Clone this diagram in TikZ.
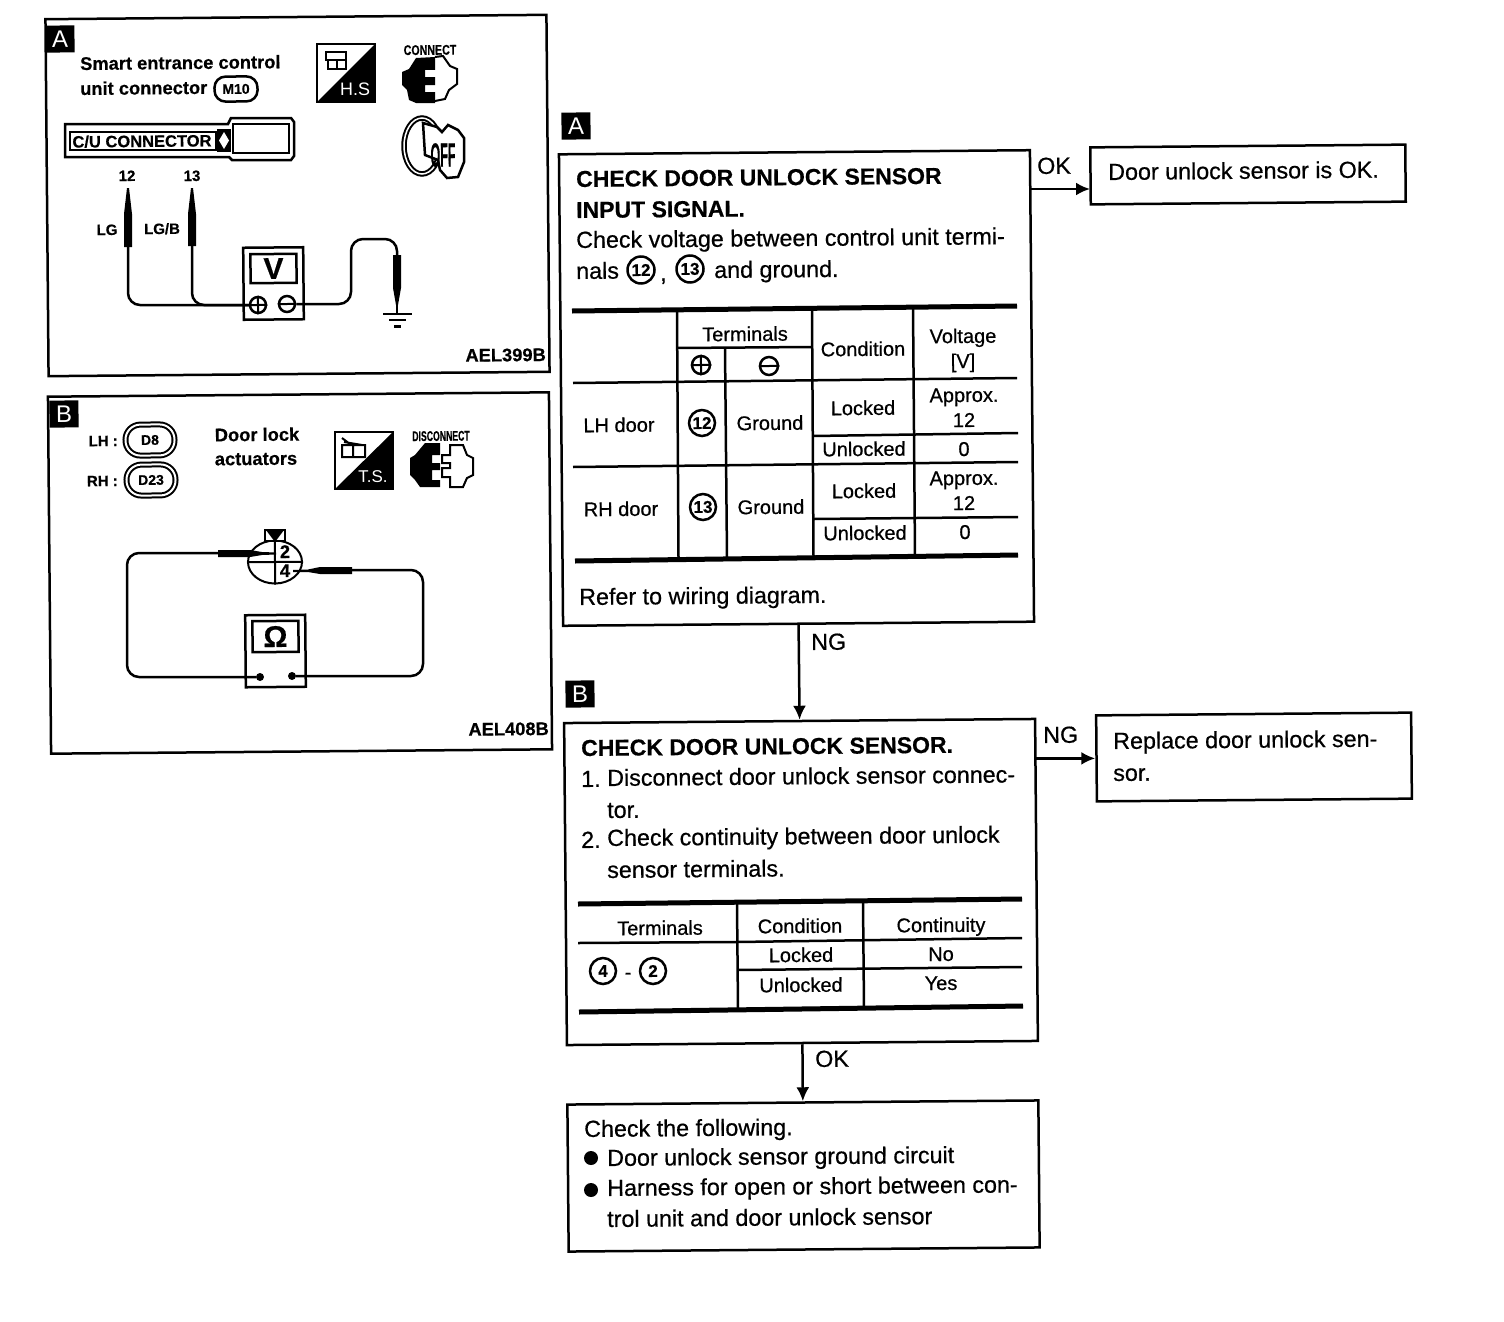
\documentclass[tikz,border=0pt]{standalone}
\usepackage{amsmath}
\usepackage{amssymb}
\usepackage{fontspec}
\usepackage{xcolor}
\usetikzlibrary{arrows.meta,shapes.geometric}
\setmainfont{Liberation Sans}[FakeBold=0.6,BoldFont=Liberation Sans Bold,BoldFeatures={FakeBold=0.5}]
\newfontfamily\thinfont{Liberation Sans}
\tikzset{
	frame/.style={draw, line width=2.5pt, inner sep=0pt},
	tag/.style={fill=black, text=white, inner sep=0pt, minimum width=29pt, minimum height=27pt, font=\thinfont\fontsize{24}{24}\selectfont},
	txt/.style={anchor=west, yshift=-1pt, inner sep=0pt, text height=16pt, text depth=0pt, font=\fontsize{23.3}{23.3}\selectfont},
	head/.style={txt, font=\bfseries\fontsize{23}{23}\selectfont},
	cell/.style={inner sep=0pt, text height=14pt, text depth=0pt, font=\fontsize{20}{20}\selectfont},
	lab/.style={inner sep=0pt, text height=12pt, text depth=0pt, font=\bfseries\fontsize{18.3}{18.3}\selectfont},
	small lab/.style={lab, font=\bfseries\fontsize{15}{15}\selectfont},
	condensed/.style={inner sep=0pt, transform shape, font=\bfseries\fontsize{14}{14}\selectfont},
	pinmark/.style={draw, circle, line width=2.5pt, inner sep=0pt, minimum size=27pt, font=\bfseries\fontsize{17}{17}\selectfont},
	port/.style={draw, circle, line width=2.5pt, inner sep=0pt, minimum size=16pt},
	plug/.style={draw, line width=2pt, double, double distance=2pt, rounded corners=15pt, minimum width=49pt, minimum height=31pt, inner sep=0pt, font=\bfseries\fontsize{14}{14}\selectfont},
	hairline/.style={line width=2.5pt},
	heavy/.style={line width=5pt},
	wire/.style={line width=2.5pt, rounded corners=12pt},
	flow/.style={line width=2.5pt, -{Latex[length=14pt,width=13pt]}},
}
\begin{document}
\begin{tikzpicture}[x=1pt, y=-1pt, every node/.append style={rotate=0.5}]
	\useasboundingbox (0,0) rectangle (1504,1322);

	% Draw the test panel A
	\node[frame, minimum width=501pt, minimum height=357pt] (panelA) at (297.5,195.5) {};
	\node[tag] (tagA) at (60,39) {A};
	\node[lab, anchor=west] (titleA1) at (80,64) {Smart entrance control};
	\node[lab, anchor=west] (titleA2) at (80,89) {unit connector};
	\node[draw, rounded corners=11pt, line width=2.5pt, minimum width=43pt, minimum height=25pt, inner sep=0pt, font=\bfseries\fontsize{14}{14}\selectfont] (mten) at (236,89) {M10};

	% H.S icon, connector and key
	\draw[line width=2pt] (317,44) rectangle (375,102);
	\fill (375,44) -- (375,102) -- (317,102) -- cycle;
	\draw[line width=2pt] (326,52) rectangle (346,60) (328,60) -- (328,69) -- (346,69) -- (346,60) (337,60) -- (337,69);
	\node[inner sep=0pt, text=white, font=\thinfont\fontsize{18}{18}\selectfont] (hs) at (355,89) {H.S};
	\node[condensed, xscale=.76] (connect) at (430,50) {CONNECT};
	\fill (435,57) -- (416,58) -- (409,69) -- (402,72) -- (402,85) -- (407,90) -- (409,100) -- (416,103) -- (435,103) -- (435,92) -- (425,92) -- (425,85) -- (435,85) -- (435,77) -- (425,77) -- (425,70) -- (435,70) -- cycle;
	\draw[line width=2pt] (435,57) -- (443,56) -- (450,66) -- (457,69) -- (457,84) -- (449,90) -- (445,99) -- (435,101);
	\draw[line width=2pt, double, double distance=1.5pt] (422,146) ellipse (18 and 28);
	\draw[line width=2.5pt, fill=white] (423,123) -- (425,155) -- (438,160) -- (440,170) -- (447,178) -- (458,177) -- (464,162) -- (464,138) -- (458,130) -- (448,125) -- (442,132) -- (437,127) -- cycle;
	\node[transform shape, xscale=.52, yscale=1.4, inner sep=0pt, font=\bfseries\fontsize{24}{24}\selectfont] (off) at (443,155) {OFF};

	% C/U connector bar
	\draw[line width=2.5pt] (65,124) -- (228,124) -- (231,118) -- (291,118) -- (294,122) -- (294,156) -- (291,160) -- (232,160) -- (229,157) -- (65,157) -- cycle;
	\draw[line width=2pt] (70,132) rectangle (216,150);
	\draw[line width=2.5pt] (233,124) rectangle (289,153);
	\fill (217,129) rectangle (231,152);
	\fill[white] (224,132) -- (229,140.5) -- (224,149) -- (219,140.5) -- cycle;
	\node[lab, font=\bfseries\fontsize{16.5}{16.5}\selectfont] (cuconn) at (142,141) {C/U CONNECTOR};

	% Probes and meter
	\node[small lab] (pinA) at (127,175) {12};
	\node[small lab] (pinB) at (192,175) {13};
	\node[small lab] (lg) at (107,229) {LG};
	\node[small lab] (lgb) at (162,228) {LG/B};
	\fill (127,188) -- (129,188) -- (132,214) -- (132,247) -- (124,247) -- (124,214) -- cycle;
	\fill (191,188) -- (193,188) -- (196,214) -- (196,246) -- (188,246) -- (188,214) -- cycle;
	\node[draw, line width=2.5pt, inner sep=0pt, minimum width=60pt, minimum height=72pt] (meterV) at (273.5,283.5) {};
	\node[draw, line width=2.5pt, inner sep=0pt, minimum width=46pt, minimum height=29pt, font=\bfseries\fontsize{30}{30}\selectfont] (dispV) at (273.5,268.5) {V};
	\node[port] (plusA) at (258,305) {};
	\node[port] (minusA) at (287,304) {};
	\draw[line width=2pt] (plusA.north) -- (plusA.south) (plusA.west) -- (plusA.east) (minusA.west) -- (minusA.east);
	\coordinate (tipA) at (128,247);
	\coordinate (tipB) at (192,246);
	\coordinate (tipC) at (397,256);
	\draw[wire] (tipA) |- (plusA);
	\draw[wire] (tipB) |- (plusA);
	\draw[wire] (minusA) -- (351,304) -- (351,239) -- (397,239) -- (tipC);
	\fill (393,255) -- (401,255) -- (401,288) -- (398,305) -- (396,305) -- (393,288) -- cycle;
	\draw[line width=2.5pt] (397,300) -- (397,314) (383,314) -- (412,314);
	\draw[line width=2.5pt] (389,320) -- (406,320);
	\draw[line width=3pt] (394,326) -- (401,326);
	\node[lab, anchor=east] (codeA) at (546,355) {AEL399B};

	% Draw the test panel B
	\node[frame, minimum width=501pt, minimum height=357pt] (panelB) at (300,573) {};
	\node[tag] (tagB) at (64,414) {B};
	\node[small lab, anchor=east] (lh) at (118,440) {LH :};
	\node[small lab, anchor=east] (rh) at (118,480) {RH :};
	\node[plug] (deight) at (150,440) {D8};
	\node[plug] (dtwenty) at (151,480) {D23};
	\node[lab] (doorlock) at (257,435) {Door lock};
	\node[lab] (actuators) at (256,459) {actuators};

	% T.S. icon and connector
	\draw[line width=2pt] (335,432) rectangle (393,489);
	\fill (393,432) -- (393,489) -- (335,489) -- cycle;
	\draw[line width=2pt] (342,438) -- (350,444) (342,445) rectangle (353,457) (353,445) rectangle (365,457) (344,442) -- (362,445);
	\node[inner sep=0pt, text=white, font=\thinfont\fontsize{17}{17}\selectfont] (ts) at (373,477) {T.S.};
	\node[condensed, xscale=.62] (disconnect) at (441,436) {DISCONNECT};
	\fill (440,443) -- (425,443) -- (415,455) -- (410,458) -- (410,475) -- (415,480) -- (420,487) -- (440,487) -- (440,480) -- (432,480) -- (432,470) -- (440,470) -- (440,463) -- (432,463) -- (432,455) -- (440,455) -- cycle;
	\draw[line width=2pt] (450,445) -- (463,445) -- (467,455) -- (473,458) -- (473,475) -- (467,478) -- (463,487) -- (450,487) -- (450,477) -- (442,477) -- (442,468) -- (450,468) -- (450,463) -- (442,463) -- (442,455) -- (450,455) -- cycle;

	% Connector face with terminals
	\node[draw, ellipse, line width=2pt, inner sep=0pt, minimum width=54pt, minimum height=43pt] (face) at (275,562) {};
	\draw[line width=2pt] (face.west) -- (face.east) (face.north) -- (face.south);
	\draw[line width=1.5pt, fill=white] (265,530) rectangle (285,541);
	\fill (266,530) -- (284,530) -- (275,542) -- cycle;
	\node[lab] (numtwo) at (285,552) {2};
	\node[lab] (numfour) at (285,571) {4};

	% Meter and leads
	\node[draw, line width=2.5pt, inner sep=0pt, minimum width=60pt, minimum height=72pt] (meterO) at (275.5,651) {};
	\node[draw, line width=2.5pt, inner sep=0pt, minimum width=46pt, minimum height=31pt, font=\bfseries\fontsize{30}{30}\selectfont] (dispO) at (275.5,636.5) {Ω};
	\node[circle, fill=black, inner sep=0pt, minimum size=8pt] (dotL) at (260,677) {};
	\node[circle, fill=black, inner sep=0pt, minimum size=8pt] (dotR) at (292,676) {};
	\coordinate (tipL) at (219,553);
	\coordinate (tipR) at (352,570);
	\draw[wire] (dotL) -- (127,677) -- (127,553) -- (tipL);
	\draw[wire] (dotR) -- (423,676) -- (423,570) -- (tipR);
	\fill (218,550) -- (250,550) -- (262,552) -- (276,552.5) -- (276,554.5) -- (262,555) -- (250,557) -- (218,557) -- cycle;
	\fill (352,567) -- (320,567) -- (308,569.5) -- (293,570) -- (293,572) -- (308,572) -- (320,574) -- (352,574) -- cycle;
	\node[lab, anchor=east] (codeB) at (549,729) {AEL408B};

	% Draw the first check
	\node[tag] (stepA) at (576,126) {A};
	\node[frame, minimum width=471pt, minimum height=471.5pt] (boxA) at (796.5,388) {};
	\node[head] (checkA1) at (576,178) {CHECK DOOR UNLOCK SENSOR};
	\node[head] (checkA2) at (576,209) {INPUT SIGNAL.};
	\node[txt] (checkA3) at (576,239) {Check voltage between control unit termi-};
	\node[txt] (checkA4) at (576,270) {nals};
	\node[pinmark] (twelve) at (641,270) {12};
	\node[txt] (comma) at (660,272) {,};
	\node[pinmark] (thirteen) at (690,269) {13};
	\node[txt] (checkA5) at (714,269) {and ground.};

	% Table of voltages
	\draw[heavy] (572,311) -- (1017,306);
	\draw[hairline] (573,383) -- (1017,378);
	\draw[hairline] (573,467) -- (1018,462);
	\draw[heavy] (575,561) -- (1018,555);
	\draw[hairline] (677,348) -- (812,347);
	\draw[hairline] (813,436) -- (1018,433);
	\draw[hairline] (814,519) -- (1018,517);
	\draw[hairline] (677,311) -- (678.5,558);
	\draw[hairline] (725,348) -- (727,558);
	\draw[hairline] (812,309) -- (813.5,557);
	\draw[hairline] (913,307) -- (915,556);
	\node[cell] (hterm) at (745,334) {Terminals};
	\node[port, minimum size=18pt] (hplus) at (701,365) {};
	\node[port, minimum size=18pt] (hminus) at (769,366) {};
	\draw[line width=2pt] (hplus.north) -- (hplus.south) (hplus.west) -- (hplus.east) (hminus.west) -- (hminus.east);
	\node[cell] (hcond) at (863,349) {Condition};
	\node[cell] (hvolt) at (963,336) {Voltage};
	\node[cell] (hunit) at (963,361) {[V]};
	\node[cell] (lhdoor) at (619,425) {LH door};
	\node[pinmark, minimum size=26pt] (lhpin) at (702,423) {12};
	\node[cell] (lhgnd) at (770,423) {Ground};
	\node[cell] (lhlock) at (863,408) {Locked};
	\node[cell] (lhappr) at (964,395) {Approx.};
	\node[cell] (lhtwelve) at (964,420) {12};
	\node[cell] (lhunl) at (864,449) {Unlocked};
	\node[cell] (lhzero) at (964,449) {0};
	\node[cell] (rhdoor) at (621,509) {RH door};
	\node[pinmark, minimum size=26pt] (rhpin) at (703,507) {13};
	\node[cell] (rhgnd) at (771,507) {Ground};
	\node[cell] (rhlock) at (864,491) {Locked};
	\node[cell] (rhappr) at (964,478) {Approx.};
	\node[cell] (rhtwelve) at (964,503) {12};
	\node[cell] (rhunl) at (865,533) {Unlocked};
	\node[cell] (rhzero) at (965,532) {0};
	\node[txt] (refer) at (579,596) {Refer to wiring diagram.};

	% Result of the first check
	\node[frame, minimum width=315pt, minimum height=57pt] (boxOk) at (1248,174.5) {};
	\node[txt] (okText) at (1108,171) {Door unlock sensor is OK.};
	\coordinate (okIn) at (1090,189);
	\draw[flow] ([xshift=-2pt]okIn -| boxA.east) -- (okIn);
	\node[txt] (okLab) at (1037,165) {OK};

	% Draw the second check
	\node[tag] (stepB) at (580,694) {B};
	\node[frame, minimum width=471pt, minimum height=322pt] (boxB) at (801,882) {};
	\draw[flow] (boxA.south) -- (boxB.north);
	\node[txt] (ngLab) at (811,641) {NG};
	\node[head] (checkB1) at (581,747) {CHECK DOOR UNLOCK SENSOR.};
	\node[txt] (numA) at (581,778) {1.};
	\node[txt] (checkB2) at (607,777) {Disconnect door unlock sensor connec-};
	\node[txt] (checkB3) at (607,809) {tor.};
	\node[txt] (numB) at (581,839) {2.};
	\node[txt] (checkB4) at (607,837) {Check continuity between door unlock};
	\node[txt] (checkB5) at (607,869) {sensor terminals.};

	% Table of continuity
	\draw[heavy] (578,904) -- (1022,899);
	\draw[hairline] (578,943) -- (737,942);
	\draw[hairline] (737,942) -- (1022,938);
	\draw[hairline] (737,970) -- (1022,967);
	\draw[heavy] (579,1012) -- (1023,1006);
	\draw[hairline] (737,904) -- (738,1009);
	\draw[hairline] (863,902) -- (864,1008);
	\node[cell] (cterm) at (660,928) {Terminals};
	\node[cell] (ccond) at (800,926) {Condition};
	\node[cell] (ccont) at (941,925) {Continuity};
	\node[pinmark, minimum size=26pt] (four) at (603,971) {4};
	\node[cell] (dash) at (628,972) {-};
	\node[pinmark, minimum size=26pt] (two) at (653,971) {2};
	\node[cell] (clock) at (801,955) {Locked};
	\node[cell] (cno) at (941,954) {No};
	\node[cell] (cunl) at (801,985) {Unlocked};
	\node[cell] (cyes) at (941,983) {Yes};

	% Result of the second check
	\node[frame, minimum width=315pt, minimum height=86pt] (boxNew) at (1254,757) {};
	\node[txt] (newA) at (1113,740) {Replace door unlock sen-};
	\node[txt] (newB) at (1113,772) {sor.};
	\draw[flow] ([xshift=-3pt]boxNew.west -| boxB.east) -- (boxNew.west);
	\node[txt] (ngLabB) at (1043,734) {NG};

	% Draw the final box
	\node[frame, minimum width=471pt, minimum height=147pt] (boxC) at (803.5,1176) {};
	\draw[flow] (boxB.south) -- (boxC.north);
	\node[txt] (okLabB) at (815,1058) {OK};
	\node[txt] (finalA) at (584,1128) {Check the following.};
	\node[circle, fill=black, inner sep=0pt, minimum size=14pt] (bulletA) at (591,1158) {};
	\node[txt] (finalB) at (607,1157) {Door unlock sensor ground circuit};
	\node[circle, fill=black, inner sep=0pt, minimum size=14pt] (bulletB) at (591,1190) {};
	\node[txt] (finalC) at (607,1187) {Harness for open or short between con-};
	\node[txt] (finalD) at (607,1218) {trol unit and door unlock sensor};

\end{tikzpicture}
\end{document}
